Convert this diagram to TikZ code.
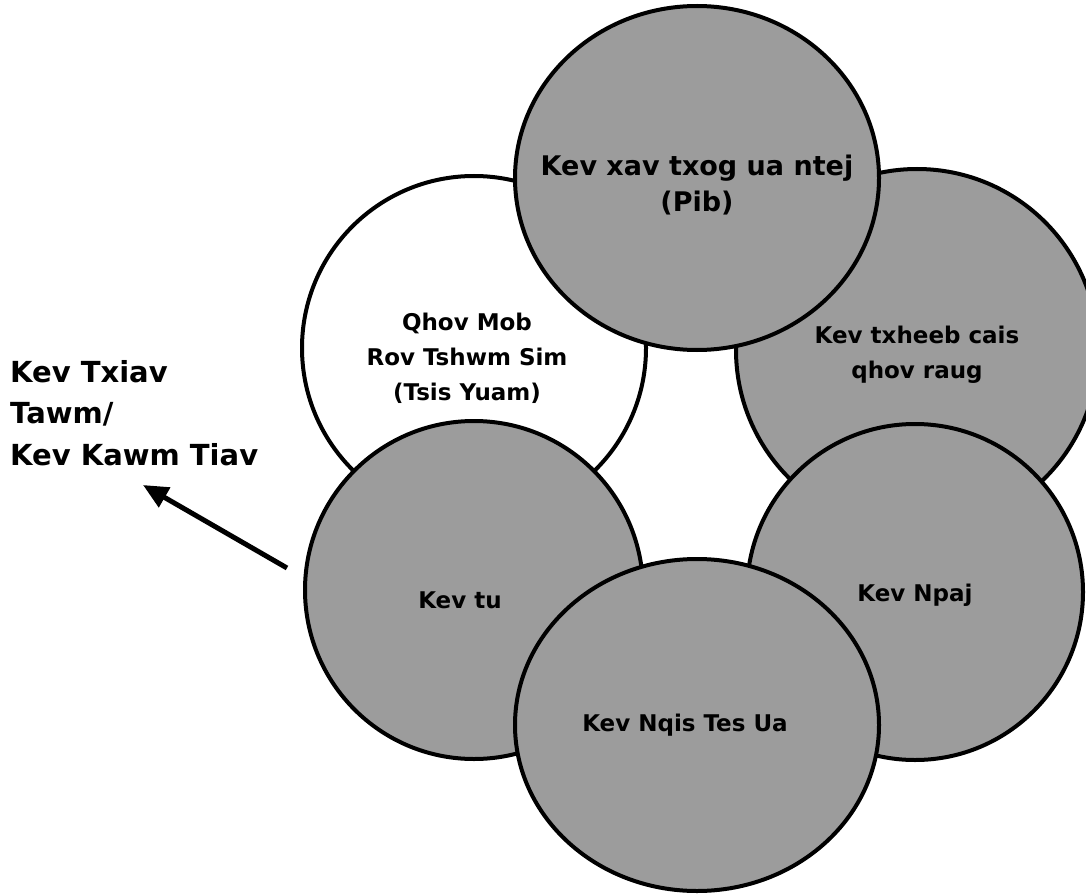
\documentclass[tikz,border=0pt]{standalone}
\usepackage{fontspec}
\setmainfont{DejaVu Sans}
\usetikzlibrary{shapes.geometric, arrows.meta}
\definecolor{circlegray}{RGB}{156,156,156}

\begin{document}
\begin{tikzpicture}[x=1pt, y=-1pt,
  bubble/.style={circle, draw=black, line width=4pt, fill=circlegray, inner sep=0pt},
  oval/.style={bubble, ellipse, minimum width=364pt},
  txt/.style={align=center, inner sep=0pt, font=\fontsize{23}{35}\selectfont\bfseries}]
  % Page size
  \useasboundingbox (0,0) rectangle (1086,896);

  % Draw the circles, back to front
  \node[bubble, fill=white, minimum size=344pt] (mob) at (474,348) {};
  \node[bubble, minimum size=362pt] (check) at (917,350) {};
  \node[oval, minimum height=344pt] (think) at (697,178) {};
  \node[bubble, minimum size=338pt] (care) at (474,590) {};
  \node[bubble, minimum size=336pt] (plan) at (915,592) {};
  \node[oval, minimum height=332pt] (act) at (697,725) {};

  % Add the texts
  \node[txt] (mobtext) at (467,358) {Qhov Mob\\Rov Tshwm Sim\\(Tsis Yuam)};
  \node[txt] (checktext) at (917,355) {Kev txheeb cais\\qhov raug};
  \node[txt, font=\fontsize{27}{36}\selectfont\bfseries] (thinktext) at (697,185) {Kev xav txog ua ntej\\(Pib)};
  \node[txt] (caretext) at (460,600) {Kev tu};
  \node[txt] (plantext) at (915,595) {Kev Npaj};
  \node[txt] (acttext) at (685,725) {Kev Nqis Tes Ua};

  % Add the way out
  \node[anchor=north west, align=left, inner sep=0pt, font=\fontsize{29}{41.5}\selectfont\bfseries] (exit) at (10,360) {Kev Txiav\\Tawm/\\Kev Kawm Tiav};

  \coordinate (tail) at (287,568);
  \coordinate (tip) at (143,485);
  \draw[line width=5pt, -{Triangle[length=25pt, width=22pt]}] (tail) -- (tip);

\end{tikzpicture}
\end{document}
